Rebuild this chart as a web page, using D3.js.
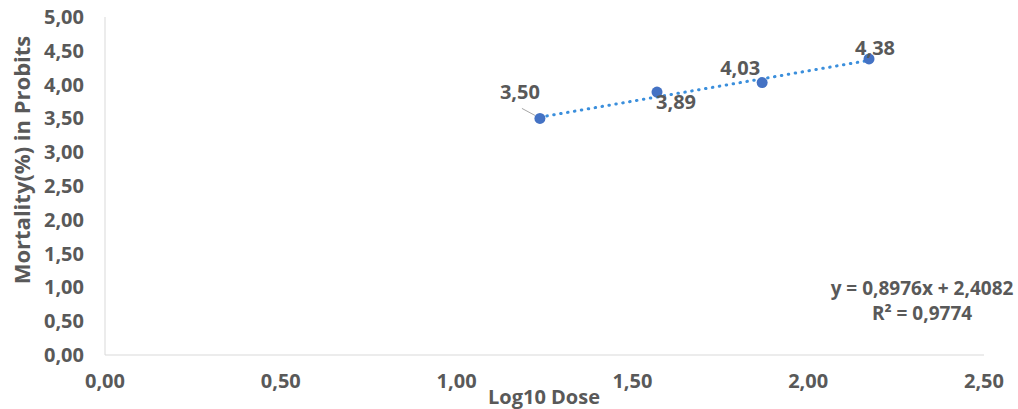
<!DOCTYPE html>
<html>
<head>
<meta charset="utf-8">
<script src="https://cdn.jsdelivr.net/npm/d3@7"></script>
<style>
  body { margin: 0; background: #fff; }
  text { font-family: "Open Sans", sans-serif; font-weight: 700; fill: #595959; }
</style>
</head>
<body>
<div id="chart"></div>
<script>
// data
const logDose = [1.237, 1.570, 1.869, 2.173];
const probits = [3.50, 3.89, 4.03, 4.38];
const xTicks = [0, 0.5, 1, 1.5, 2, 2.5];
const yTicks = [0, 0.5, 1, 1.5, 2, 2.5, 3, 3.5, 4, 4.5, 5];
const trendSlope = 0.8976, trendIntercept = 2.4082, rSquared = 0.9774;

// label placement (dx, dy from the point)
const labelOffsets = [[-20, -26], [19, 10], [-22, -15], [6, -11]];

var width = 1018,
    height = 409;

const svg = d3.select("#chart")
  .append("svg")
    .attr("width", width)
    .attr("height", height);

const x = d3.scaleLinear().domain([0, 2.5]).range([105, 984]);
const y = d3.scaleLinear().domain([0, 5]).range([355, 17]);

const comma = d3.formatLocale({ decimal: ",", thousands: ".", grouping: [3], currency: ["", ""] });
const fmt = comma.format(".2f");
const fmt4 = comma.format(".4f");

// axes lines
svg.append("line")
  .attr("x1", x(0)).attr("x2", x(0))
  .attr("y1", y(5)).attr("y2", y(0))
  .attr("stroke", "#d9d9d9");
svg.append("line")
  .attr("x1", x(0)).attr("x2", x(2.5))
  .attr("y1", y(0)).attr("y2", y(0))
  .attr("stroke", "#d9d9d9");

// tick labels
svg.append("g").selectAll("text")
  .data(yTicks)
  .join("text")
    .attr("x", 84)
    .attr("y", d => y(d))
    .attr("dy", "0.35em")
    .attr("text-anchor", "end")
    .attr("font-size", 20)
    .text(d => fmt(d));

svg.append("g").selectAll("text")
  .data(xTicks)
  .join("text")
    .attr("x", d => x(d))
    .attr("y", 381)
    .attr("dy", "0.35em")
    .attr("text-anchor", "middle")
    .attr("font-size", 20)
    .text(d => fmt(d));

// axis titles
svg.append("text")
  .attr("transform", "translate(22,160) rotate(-90)")
  .attr("dy", "0.35em")
  .attr("text-anchor", "middle")
  .attr("font-size", 22)
  .text("Mortality(%) in Probits");

svg.append("text")
  .attr("x", 544)
  .attr("y", 404)
  .attr("text-anchor", "middle")
  .attr("font-size", 20)
  .text("Log10 Dose");

// trendline
const x0 = d3.min(logDose), x1 = d3.max(logDose);
svg.append("line")
  .attr("x1", x(x0)).attr("y1", y(trendSlope * x0 + trendIntercept))
  .attr("x2", x(x1)).attr("y2", y(trendSlope * x1 + trendIntercept))
  .attr("stroke", "#3b8fdc")
  .attr("stroke-width", 3)
  .attr("stroke-linecap", "round")
  .attr("stroke-dasharray", "0.5 6.5");

// leader line for first label
svg.append("line")
  .attr("x1", x(logDose[0]) - 18).attr("y1", y(probits[0]) - 10)
  .attr("x2", x(logDose[0]) - 5).attr("y2", y(probits[0]) - 3)
  .attr("stroke", "#a6a6a6")
  .attr("stroke-width", 1);

// points
svg.append("g").selectAll("circle")
  .data(logDose)
  .join("circle")
    .attr("cx", d => x(d))
    .attr("cy", (d, i) => y(probits[i]))
    .attr("r", 5.5)
    .attr("fill", "#4472c4");

// data labels
svg.append("g").selectAll("text")
  .data(probits)
  .join("text")
    .attr("x", (d, i) => x(logDose[i]) + labelOffsets[i][0])
    .attr("y", (d, i) => y(d) + labelOffsets[i][1])
    .attr("dy", "0.35em")
    .attr("text-anchor", "middle")
    .attr("font-size", 20)
    .text(d => fmt(d));

// equation
const eq = svg.append("text")
  .attr("x", 922)
  .attr("y", 288)
  .attr("dy", "0.35em")
  .attr("text-anchor", "middle")
  .attr("font-size", 19);
eq.append("tspan").text("y = " + fmt4(trendSlope) + "x + " + fmt4(trendIntercept));
eq.append("tspan")
  .attr("x", 922).attr("dy", 25)
  .text("R² = " + fmt4(rSquared));
</script>
</body>
</html>
